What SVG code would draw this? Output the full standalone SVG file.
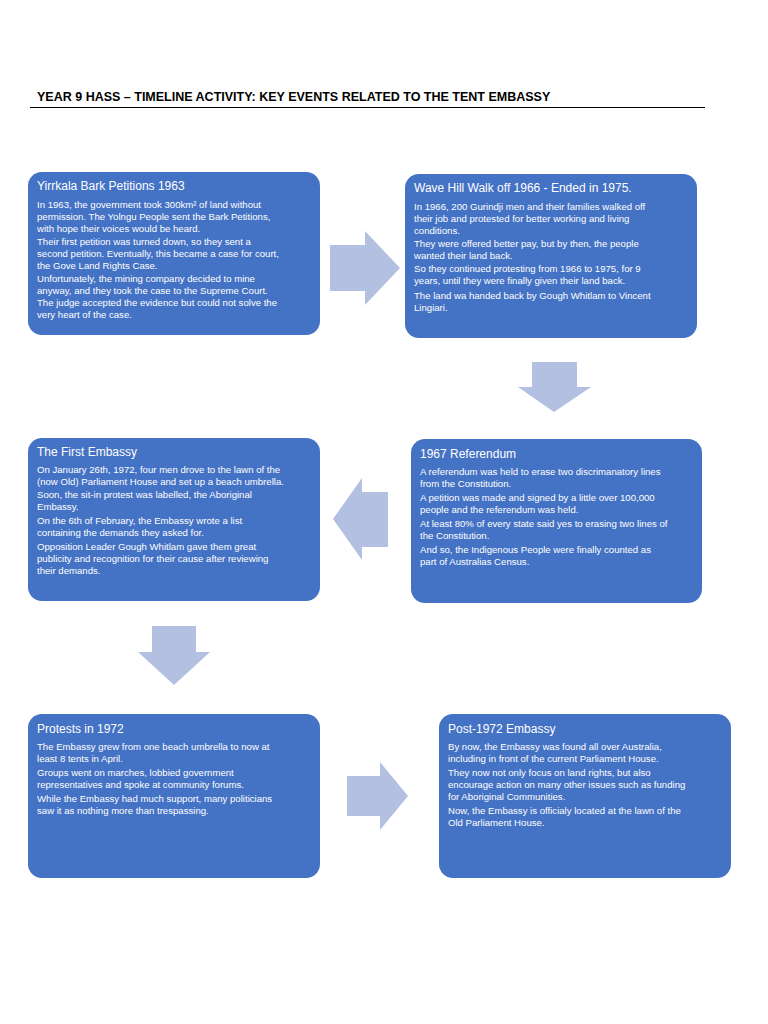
<svg xmlns="http://www.w3.org/2000/svg" width="768" height="1024" viewBox="0 0 768 1024">
<style>
.box{fill:#4472C4}
.t{font-family:"Liberation Sans",Arial,sans-serif;font-size:12px;fill:#fff}
.b{font-family:"Liberation Sans",Arial,sans-serif;font-size:9.6px;fill:#fff}
.arr{fill:#B4C0E2}
</style>
<rect width="768" height="1024" fill="#fff"/>
<text x="37" y="101" font-family="Liberation Sans,Arial,sans-serif" font-size="12.5" font-weight="bold" fill="#000">YEAR 9 HASS – TIMELINE ACTIVITY: KEY EVENTS RELATED TO THE TENT EMBASSY</text>
<line x1="30" y1="107.5" x2="705" y2="107.5" stroke="#000" stroke-width="1.2"/>
<g id="connectors">
<polygon class="arr" points="330,245 365,245 365,231 400,268 365,305 365,291 330,291"/>
<polygon class="arr" points="532,362 577,362 577,387 591,387 554,412 518,387 532,387"/>
<polygon class="arr" points="388,492 362,492 362,478 333,519 362,560 362,547 388,547"/>
<polygon class="arr" points="152,626 196,626 196,652 210,652 174,685 138,652 152,652"/>
<polygon class="arr" points="347,776 380,776 380,762 408,796 380,830 380,816 347,816"/>
</g>
<g id="n1">
<rect class="box" x="28" y="172" width="292" height="163" rx="14"/>
<text class="t" x="37" y="190">Yirrkala Bark Petitions 1963</text>
<text class="b"><tspan x="37" y="208">In 1963, the government took 300km² of land without</tspan><tspan x="37" y="220">permission. The Yolngu People sent the Bark Petitions,</tspan><tspan x="37" y="232">with hope their voices would be heard.</tspan><tspan x="37" y="245">Their first petition was turned down, so they sent a</tspan><tspan x="37" y="257">second petition. Eventually, this became a case for court,</tspan><tspan x="37" y="269">the Gove Land Rights Case.</tspan><tspan x="37" y="282">Unfortunately, the mining company decided to mine</tspan><tspan x="37" y="294">anyway, and they took the case to the Supreme Court.</tspan><tspan x="37" y="306">The judge accepted the evidence but could not solve the</tspan><tspan x="37" y="318">very heart of the case.</tspan></text>
</g>
<g id="n2">
<rect class="box" x="405" y="174" width="292" height="164" rx="14"/>
<text class="t" x="414" y="192">Wave Hill Walk off 1966 - Ended in 1975.</text>
<text class="b"><tspan x="414" y="210">In 1966, 200 Gurindji men and their families walked off</tspan><tspan x="414" y="222">their job and protested for better working and living</tspan><tspan x="414" y="234">conditions.</tspan><tspan x="414" y="247">They were offered better pay, but by then, the people</tspan><tspan x="414" y="259">wanted their land back.</tspan><tspan x="414" y="272">So they continued protesting from 1966 to 1975, for 9</tspan><tspan x="414" y="284">years, until they were finally given their land back.</tspan><tspan x="414" y="299">The land wa handed back by Gough Whitlam to Vincent</tspan><tspan x="414" y="311">Lingiari.</tspan></text>
</g>
<g id="n3">
<rect class="box" x="28" y="438" width="292" height="163" rx="14"/>
<text class="t" x="37" y="456">The First Embassy</text>
<text class="b"><tspan x="37" y="473">On January 26th, 1972, four men drove to the lawn of the</tspan><tspan x="37" y="485">(now Old) Parliament House and set up a beach umbrella.</tspan><tspan x="37" y="498">Soon, the sit-in protest was labelled, the Aboriginal</tspan><tspan x="37" y="510">Embassy.</tspan><tspan x="37" y="524">On the 6th of February, the Embassy wrote a list</tspan><tspan x="37" y="536">containing the demands they asked for.</tspan><tspan x="37" y="550">Opposition Leader Gough Whitlam gave them great</tspan><tspan x="37" y="562">publicity and recognition for their cause after reviewing</tspan><tspan x="37" y="574">their demands.</tspan></text>
</g>
<g id="n4">
<rect class="box" x="411" y="439" width="291" height="164" rx="14"/>
<text class="t" x="420" y="458">1967 Referendum</text>
<text class="b"><tspan x="420" y="475">A referendum was held to erase two discrimanatory lines</tspan><tspan x="420" y="487">from the Constitution.</tspan><tspan x="420" y="501">A petition was made and signed by a little over 100,000</tspan><tspan x="420" y="513">people and the referendum was held.</tspan><tspan x="420" y="527">At least 80% of every state said yes to erasing two lines of</tspan><tspan x="420" y="539">the Constitution.</tspan><tspan x="420" y="553">And so, the Indigenous People were finally counted as</tspan><tspan x="420" y="565">part of Australias Census.</tspan></text>
</g>
<g id="n5">
<rect class="box" x="28" y="714" width="292" height="164" rx="14"/>
<text class="t" x="37" y="733">Protests in 1972</text>
<text class="b"><tspan x="37" y="750">The Embassy grew from one beach umbrella to now at</tspan><tspan x="37" y="762">least 8 tents in April.</tspan><tspan x="37" y="776">Groups went on marches, lobbied government</tspan><tspan x="37" y="788">representatives and spoke at community forums.</tspan><tspan x="37" y="802">While the Embassy had much support, many politicians</tspan><tspan x="37" y="814">saw it as nothing more than trespassing.</tspan></text>
</g>
<g id="n6">
<rect class="box" x="439" y="714" width="292" height="164" rx="14"/>
<text class="t" x="448" y="733">Post-1972 Embassy</text>
<text class="b"><tspan x="448" y="750">By now, the Embassy was found all over Australia,</tspan><tspan x="448" y="762">including in front of the current Parliament House.</tspan><tspan x="448" y="776">They now not only focus on land rights, but also</tspan><tspan x="448" y="788">encourage action on many other issues such as funding</tspan><tspan x="448" y="800">for Aboriginal Communities.</tspan><tspan x="448" y="814">Now, the Embassy is officialy located at the lawn of the</tspan><tspan x="448" y="826">Old Parliament House.</tspan></text>
</g>
</svg>
